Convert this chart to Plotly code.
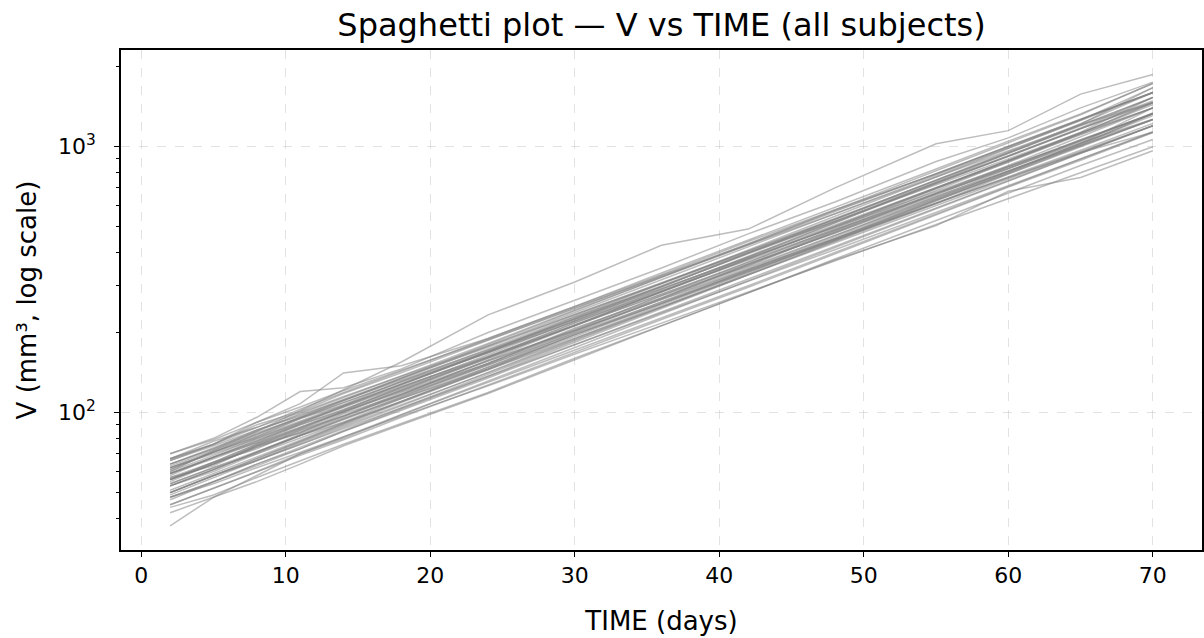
import plotly.graph_objects as go

# Sampling times (days)
times = [2, 5, 8, 11, 14, 18, 24, 30, 36, 42, 48, 55, 60, 65, 70]

# Tumour volume per subject (mm^3)
s01 = [56, 65, 73, 86, 97, 119, 153, 208, 270, 362, 474, 665, 830, 1062, 1330]
s02 = [64, 73, 86, 97, 112, 135, 176, 234, 308, 405, 535, 735, 925, 1170, 1470]
s03 = [50, 58, 66, 77, 89, 107, 141, 188, 249, 330, 440, 612, 790, 1000, 1265]
s04 = [67, 78, 88, 103, 119, 143, 190, 251, 335, 445, 590, 825, 1050, 1330, 1730]
s05 = [48, 55, 64, 74, 86, 104, 139, 186, 249, 334, 448, 628, 800, 1030, 1400]
s06 = [59, 67, 77, 88, 101, 120, 156, 204, 266, 346, 452, 615, 765, 950, 1135]
s07 = [70, 80, 96, 120, 124, 146, 200, 265, 350, 470, 620, 880, 1080, 1400, 1750]
s08 = [60, 72, 85, 102, 122, 155, 233, 310, 426, 490, 700, 1026, 1150, 1578, 1870]
s09 = [66, 76, 92, 108, 141, 150, 190, 250, 330, 440, 580, 790, 1000, 1270, 1600]
s10 = [37.5, 48, 58, 70, 80, 98, 130, 172, 228, 300, 400, 560, 710, 900, 1140]
s11 = [44, 49, 57, 66, 76, 91, 119, 160, 212, 282, 375, 505, 680, 766, 966]
s12 = [42, 48, 55, 64, 75, 90, 118, 158, 212, 282, 378, 528, 668, 850, 1065]
s13 = [45, 52, 60, 69, 79, 96, 127, 169, 224, 296, 395, 555, 705, 890, 1130]
s14 = [55, 64, 75, 86, 100, 121, 160, 213, 284, 378, 503, 702, 885, 1125, 1460]
s15 = [59, 68, 78, 90, 103, 123, 161, 212, 280, 368, 485, 668, 840, 1058, 1330]
s16 = [53, 61, 71, 82, 94, 114, 151, 202, 270, 358, 478, 670, 850, 1090, 1400]
s17 = [62, 71, 82, 95, 109, 131, 173, 231, 306, 405, 538, 748, 945, 1200, 1530]
s18 = [56, 64, 74, 84, 97, 116, 151, 199, 260, 340, 446, 612, 766, 962, 1200]
s19 = [50, 58, 67, 78, 90, 109, 145, 194, 258, 343, 458, 640, 812, 1030, 1330]
s20 = [61, 71, 81, 93, 107, 128, 168, 222, 293, 385, 508, 703, 885, 1115, 1400]
s21 = [53, 60, 70, 80, 92, 110, 145, 190, 250, 330, 435, 602, 758, 955, 1200]
s22 = [67, 76, 90, 101, 118, 141, 187, 246, 328, 430, 575, 790, 1005, 1265, 1600]
s23 = [48, 55, 63, 73, 85, 102, 135, 180, 239, 317, 422, 588, 745, 945, 1200]
s24 = [59, 68, 79, 91, 106, 128, 170, 228, 305, 408, 546, 770, 985, 1260, 1668]
s25 = [64, 73, 84, 96, 109, 130, 168, 220, 287, 375, 490, 668, 830, 1035, 1270]
s26 = [56, 65, 76, 88, 102, 124, 165, 222, 297, 398, 534, 748, 955, 1220, 1600]
s27 = [50, 58, 66, 76, 87, 104, 137, 181, 238, 312, 410, 567, 712, 897, 1134]
s28 = [62, 71, 83, 96, 111, 135, 180, 240, 322, 430, 575, 810, 1035, 1320, 1734]
s29 = [58, 68, 77, 90, 102, 125, 162, 218, 284, 380, 498, 698, 875, 1112, 1400]
s30 = [53, 61, 71, 82, 95, 115, 153, 206, 276, 368, 492, 694, 885, 1135, 1534]
s31 = [70, 79, 92, 105, 121, 144, 188, 248, 325, 425, 560, 770, 965, 1210, 1467]
s32 = [48, 54, 62, 71, 81, 97, 126, 166, 217, 284, 372, 510, 635, 795, 1000]
s33 = [57, 63, 75, 84, 99, 117, 157, 204, 275, 356, 480, 658, 842, 1050, 1340]
s34 = [64, 74, 85, 99, 114, 138, 182, 243, 322, 428, 570, 795, 1005, 1270, 1600]
s35 = [50, 58, 67, 78, 91, 110, 148, 200, 268, 360, 484, 684, 877, 1125, 1467]
s36 = [62, 70, 80, 92, 105, 125, 163, 213, 278, 362, 474, 650, 810, 1010, 1267]
s37 = [45, 52, 60, 70, 81, 98, 131, 176, 235, 313, 418, 585, 745, 945, 1201]
s38 = [59, 68, 78, 91, 105, 127, 168, 225, 300, 400, 533, 745, 945, 1200, 1534]
s39 = [56, 64, 74, 85, 97, 117, 153, 203, 267, 352, 465, 640, 808, 1018, 1267]
s40 = [67, 76, 88, 100, 115, 137, 178, 234, 306, 400, 525, 720, 900, 1130, 1400]
s41 = [54, 62, 70, 82, 92, 113, 146, 197, 257, 344, 451, 632, 792, 1006, 1265]
s42 = [61, 71, 81, 95, 107, 131, 170, 229, 297, 398, 522, 731, 918, 1168, 1465]
s43 = [47, 55, 64, 73, 85, 103, 137, 184, 246, 330, 442, 625, 797, 1015, 1334]
s44 = [56, 64, 75, 87, 101, 122, 162, 217, 290, 386, 516, 724, 922, 1176, 1534]
s45 = [51, 59, 68, 79, 91, 110, 146, 196, 262, 348, 463, 648, 823, 1045, 1335]
s46 = [63, 72, 83, 96, 111, 134, 178, 238, 316, 420, 560, 780, 990, 1255, 1600]
s47 = [54, 62, 71, 82, 95, 113, 148, 196, 257, 338, 444, 612, 768, 970, 1225]
s48 = [60, 69, 80, 92, 106, 128, 169, 225, 298, 395, 524, 730, 922, 1170, 1490]
s49 = [49, 57, 66, 76, 88, 106, 142, 190, 254, 338, 452, 632, 805, 1025, 1310]
s50 = [57, 65, 76, 87, 101, 121, 160, 214, 285, 378, 502, 700, 885, 1125, 1440]
s51 = [53, 61, 71, 83, 96, 117, 157, 212, 286, 384, 518, 735, 945, 1215, 1670]
s52 = [66, 75, 86, 98, 112, 133, 172, 225, 293, 381, 497, 675, 845, 1060, 1334]

subjects = [s01, s02, s03, s04, s05, s06, s07, s08, s09, s10, s11, s12, s13,
            s14, s15, s16, s17, s18, s19, s20, s21, s22, s23, s24, s25, s26,
            s27, s28, s29, s30, s31, s32, s33, s34, s35, s36, s37, s38, s39,
            s40, s41, s42, s43, s44, s45, s46, s47, s48, s49, s50, s51, s52]

x_ticks = [0, 10, 20, 30, 40, 50, 60, 70]
y_ticks = [100, 1000]
y_ticktext = ["10<sup>2</sup>", "10<sup>3</sup>"]
y_minor = [40, 50, 60, 70, 80, 90, 200, 300, 400, 500, 600, 700, 800, 900, 2000]

fig = go.Figure()
for i, v in enumerate(subjects):
    fig.add_trace(go.Scatter(
        x=times, y=v, mode="lines",
        line=dict(color="rgba(128,128,128,0.52)", width=1.5),
        showlegend=False, hoverinfo="skip", name=f"ID {i+1}",
    ))

font = "DejaVu Sans, Arial, sans-serif"
grid_col = "rgba(190,190,190,0.45)"
fig.update_layout(
    width=1204, height=638,
    margin=dict(l=121, r=2, t=50, b=88),
    paper_bgcolor="white", plot_bgcolor="white",
    font=dict(family=font, size=22, color="black"),
    title=dict(text="Spaghetti plot — V vs TIME (all subjects)",
               xref="paper", x=0.5, xanchor="center",
               yref="container", y=0.961, yanchor="middle",
               font=dict(size=32, color="black")),
)
fig.update_xaxes(
    range=[-1.4, 73.4], tickmode="array", tickvals=x_ticks,
    ticks="outside", ticklen=5, tickwidth=1.3, tickcolor="black",
    showline=True, linecolor="black", linewidth=1.5, mirror=True,
    showgrid=True, gridcolor=grid_col, griddash="dash", gridwidth=1,
    zeroline=False, automargin=False,
    title=dict(text="TIME (days)", standoff=25, font=dict(size=26)),
    tickfont=dict(size=22), ticklabelstandoff=0,
)
fig.update_yaxes(
    type="log", range=[1.483, 3.364], tickmode="array", tickvals=y_ticks, ticktext=y_ticktext,
    ticks="outside", ticklen=5, tickwidth=1.3, tickcolor="black",
    showline=True, linecolor="black", linewidth=1.5, mirror=True,
    showgrid=True, gridcolor=grid_col, griddash="dash", gridwidth=1,
    zeroline=False, automargin=False,
    title=dict(text="V (mm³, log scale)", standoff=14, font=dict(size=26)),
    tickfont=dict(size=22), ticklabelstandoff=14,
    minor=dict(tickmode="array", tickvals=y_minor, ticks="outside", ticklen=3,
               tickwidth=1, tickcolor="black", showgrid=False),
)

fig.write_html("out.html", config={"displayModeBar": False},
               post_script="document.body.style.margin='0';document.body.style.overflow='hidden';")
